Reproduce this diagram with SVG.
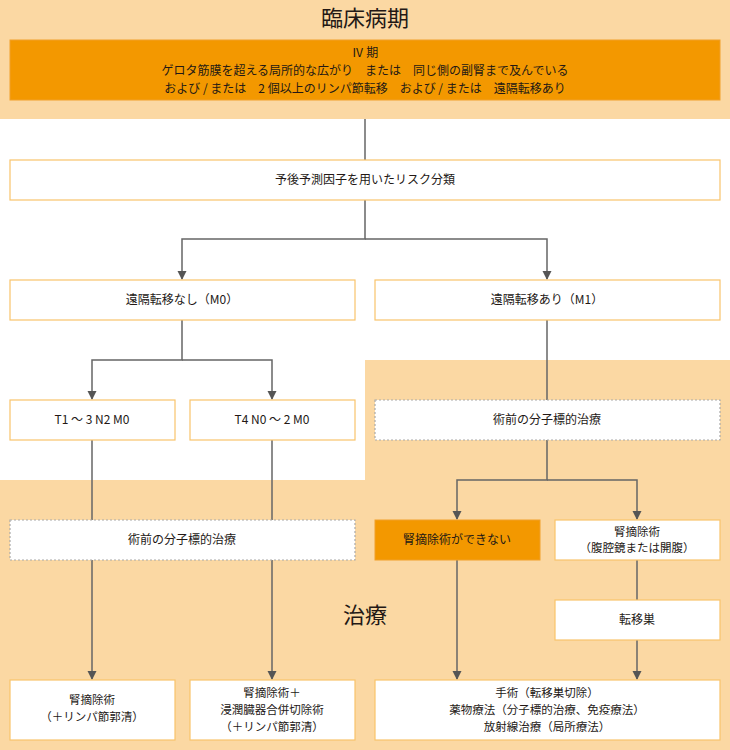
<svg xmlns="http://www.w3.org/2000/svg" width="730" height="750" viewBox="0 0 730 750">
<style>
text{font-family:"Noto Sans CJK JP","Noto Sans",sans-serif;font-size:12px;fill:#231815;text-anchor:middle}
.big{font-size:22px}
.ml{font-size:11.5px}
.box{fill:#fff;stroke:#f9c46b;stroke-width:1.2}
.hot{fill:#f39800;stroke:#f1a02a;stroke-width:1}
.dash{fill:#fff;stroke:#aaa;stroke-width:1.2;stroke-dasharray:2 2}
.con{fill:none;stroke:#666;stroke-width:1.5}
</style>
<g id="background">
<rect x="0" y="0" width="730" height="119" fill="#fbd8a3"/>
<path d="M365,360 H730 V750 H0 V480 H365 Z" fill="#fbd8a3"/>
<text class="big" x="365" y="26">臨床病期</text>
<text class="big" x="365" y="623">治療</text>
</g>
<g id="connectors">
<path class="con" d="M365,119 V160"/>
<path class="con" d="M365,200 V239 H182 V279"/>
<path class="con" d="M365,239 H547 V279"/>
<path class="con" d="M182,320 V360 H92 V399"/>
<path class="con" d="M182,360 H272 V399"/>
<path class="con" d="M547,320 V400"/>
<path class="con" d="M92,440 V679"/>
<path class="con" d="M272,440 V679"/>
<path class="con" d="M547,440 V480 H457 V519"/>
<path class="con" d="M547,480 H637 V519"/>
<path class="con" d="M457,560 V679"/>
<path class="con" d="M637,560 V600"/>
<path class="con" d="M637,640 V679"/>
<g fill="#555">
<path d="M177.5,271 H186.5 L182,280 Z"/>
<path d="M542.5,271 H551.5 L547,280 Z"/>
<path d="M87.5,391 H96.5 L92,400 Z"/>
<path d="M267.5,391 H276.5 L272,400 Z"/>
<path d="M452.5,511 H461.5 L457,520 Z"/>
<path d="M632.5,511 H641.5 L637,520 Z"/>
<path d="M87.5,671 H96.5 L92,680 Z"/>
<path d="M267.5,671 H276.5 L272,680 Z"/>
<path d="M452.5,671 H461.5 L457,680 Z"/>
<path d="M632.5,671 H641.5 L637,680 Z"/>
</g>
</g>
<g id="stage4">
<rect class="hot" x="10" y="40" width="710" height="60"/>
<text x="365" y="57">Ⅳ 期<tspan x="365" y="75">ゲロタ筋膜を超える局所的な広がり　または　同じ側の副腎まで及んでいる</tspan><tspan x="365" y="93">および / または　2 個以上のリンパ節転移　および / または　遠隔転移あり</tspan></text>
</g>
<g id="risk">
<rect class="box" x="10" y="160" width="710" height="40"/>
<text x="365" y="184">予後予測因子を用いたリスク分類</text>
</g>
<g id="m0">
<rect class="box" x="10" y="280" width="345" height="40"/>
<text x="182" y="304">遠隔転移なし（M0）</text>
</g>
<g id="m1">
<rect class="box" x="375" y="280" width="345" height="40"/>
<text x="547" y="304">遠隔転移あり（M1）</text>
</g>
<g id="t13">
<rect class="box" x="10" y="400" width="165" height="40"/>
<text x="92" y="424">T1 ～ 3 N2 M0</text>
</g>
<g id="t4">
<rect class="box" x="190" y="400" width="165" height="40"/>
<text x="272" y="424">T4 N0 ～ 2 M0</text>
</g>
<g id="preop-right">
<rect class="dash" x="375" y="400" width="345" height="40"/>
<text x="547" y="424">術前の分子標的治療</text>
</g>
<g id="preop-left">
<rect class="dash" x="10" y="520" width="345" height="40"/>
<text x="182" y="544">術前の分子標的治療</text>
</g>
<g id="no-nephrectomy">
<rect class="hot" x="375" y="520" width="165" height="40"/>
<text x="457" y="544">腎摘除術ができない</text>
</g>
<g id="nephrectomy">
<rect class="box" x="555" y="520" width="165" height="40"/>
<text class="ml" x="637" y="535.6">腎摘除術<tspan x="637" y="552.4">（腹腔鏡または開腹）</tspan></text>
</g>
<g id="metastasis">
<rect class="box" x="555" y="600" width="165" height="40"/>
<text x="637" y="624">転移巣</text>
</g>
<g id="out1">
<rect class="box" x="10" y="680" width="165" height="60"/>
<text class="ml" x="92" y="704">腎摘除術<tspan x="92" y="720.8">（＋リンパ節郭清）</tspan></text>
</g>
<g id="out2">
<rect class="box" x="190" y="680" width="165" height="60"/>
<text class="ml" x="272" y="697.2">腎摘除術＋<tspan x="272" y="714">浸潤臓器合併切除術</tspan><tspan x="272" y="730.8">（＋リンパ節郭清）</tspan></text>
</g>
<g id="out3">
<rect class="box" x="375" y="680" width="345" height="60"/>
<text class="ml" x="547" y="697.2">手術（転移巣切除）<tspan x="547" y="714">薬物療法（分子標的治療、免疫療法）</tspan><tspan x="547" y="730.8">放射線治療（局所療法）</tspan></text>
</g>
</svg>
